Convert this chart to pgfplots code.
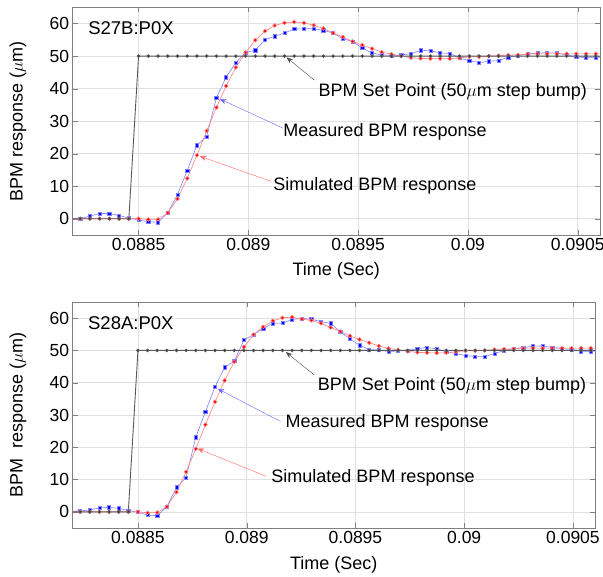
\documentclass[border=0pt]{standalone}
\usepackage{fontspec}
\setmainfont{Liberation Sans}
\usepackage{pgfplots}
\pgfplotsset{compat=1.18}
\usepackage{pgfplotstable}
\usetikzlibrary{arrows.meta}

% t = time (s), sp = set point, meas = measured, sim = simulated
\pgfplotstableread{
t          sp  meas  sim
0.0881899  0   0.0   0.0
0.0882342  0   0.0   0.0
0.0882785  0   0.8   0.0
0.0883228  0   1.6   0.0
0.0883671  0   1.6   0.0
0.0884114  0   1.0   0.0
0.0884557  0   0.2   0.0
0.0885000  50  -0.4  0.0
0.0885443  50  -0.9  -0.2
0.0885886  50  -1.1  -0.2
0.0886329  50  1.8   1.8
0.0886772  50  7.4   6.1
0.0887215  50  14.8  12.4
0.0887658  50  22.6  19.5
0.0888101  50  25.3  27.0
0.0888544  50  37.2  34.2
0.0888987  50  43.5  40.8
0.0889430  50  48.0  46.5
0.0889873  50  51.1  51.1
0.0890316  50  51.8  54.9
0.0890759  50  55.0  57.7
0.0891202  50  56.1  59.4
0.0891645  50  57.1  60.2
0.0892088  50  58.3  60.5
0.0892531  50  58.4  60.2
0.0892974  50  58.4  59.5
0.0893417  50  57.9  58.5
0.0893860  50  57.1  57.1
0.0894303  50  55.3  55.9
0.0894746  50  54.5  54.5
0.0895189  50  52.5  53.4
0.0895632  50  50.9  52.3
0.0896075  50  50.4  51.2
0.0896518  50  50.2  50.6
0.0896961  50  50.4  50.0
0.0897404  50  50.7  49.5
0.0897847  50  51.8  49.3
0.0898290  50  51.6  49.2
0.0898733  50  51.0  49.2
0.0899176  50  50.8  49.2
0.0899619  50  49.4  49.4
0.0900062  50  48.6  49.8
0.0900505  50  48.0  49.8
0.0900948  50  48.4  50.0
0.0901391  50  48.6  50.1
0.0901834  50  49.6  50.3
0.0902277  50  50.2  50.4
0.0902720  50  50.6  50.6
0.0903163  50  51.0  50.7
0.0903606  50  51.0  50.7
0.0904049  50  51.0  50.7
0.0904492  50  50.3  50.7
0.0904935  50  49.8  50.7
0.0905378  50  49.5  50.7
0.0905821  50  49.5  50.7
0.0906264  50  49.5  50.7
}\topdata

\pgfplotstableread{
t          sp  meas  sim
0.0881899  0   0.2   0.0
0.0882342  0   0.3   0.0
0.0882785  0   0.6   0.0
0.0883228  0   1.2   0.0
0.0883671  0   1.4   0.0
0.0884114  0   1.1   0.0
0.0884557  0   0.4   0.0
0.0885000  50  -0.1  0.0
0.0885443  50  -1.0  -0.3
0.0885886  50  -1.2  -0.2
0.0886329  50  1.6   1.6
0.0886772  50  7.6   6.1
0.0887215  50  10.6  12.4
0.0887658  50  23.1  19.5
0.0888101  50  31.0  27.0
0.0888544  50  38.7  34.1
0.0888987  50  44.8  40.7
0.0889430  50  46.7  46.5
0.0889873  50  53.2  51.1
0.0890316  50  54.9  54.9
0.0890759  50  56.8  57.3
0.0891202  50  58.4  59.2
0.0891645  50  58.5  60.1
0.0892088  50  59.6  60.3
0.0892531  50  59.9  59.7
0.0892974  50  59.7  59.3
0.0893417  50  58.9  58.4
0.0893860  50  58.4  57.1
0.0894303  50  55.8  55.9
0.0894746  50  53.6  54.5
0.0895189  50  51.6  53.4
0.0895632  50  50.3  52.4
0.0896075  50  50.1  51.4
0.0896518  50  49.7  50.6
0.0896961  50  49.8  50.2
0.0897404  50  50.0  49.7
0.0897847  50  50.6  49.4
0.0898290  50  50.9  49.3
0.0898733  50  50.5  49.2
0.0899176  50  49.6  49.3
0.0899619  50  49.0  49.6
0.0900062  50  48.4  49.9
0.0900505  50  48.1  49.9
0.0900948  50  48.1  50.0
0.0901391  50  49.0  50.3
0.0901834  50  50.0  50.4
0.0902277  50  50.5  50.5
0.0902720  50  50.9  50.7
0.0903163  50  51.3  50.7
0.0903606  50  51.4  50.7
0.0904049  50  50.9  50.7
0.0904492  50  50.6  50.7
0.0904935  50  50.3  50.7
0.0905378  50  49.7  50.7
0.0905821  50  49.7  50.7
0.0906264  50  49.7  50.7
}\botdata

\pgfplotsset{
  bpm/.style={
    scale only axis, anchor=north west,
    xmin=0.0882, xmax=0.0906, ymin=-5, ymax=65,
    scaled x ticks=false,
    xtick={0.0885,0.089,0.0895,0.09,0.0905},
    xticklabels={0.0885,0.089,0.0895,0.09,0.0905},
    ytick={0,10,20,30,40,50,60},
    grid=major, major grid style={black!12, line width=0.5pt},
    axis line style={black!50}, tick style={black!50},
    tick align=inside, major tick length=5pt,
    ticklabel style={font=\fontsize{17.5}{20}\selectfont},
    label style={font=\fontsize{18}{21}\selectfont},
    /pgf/number format/assume math mode=true,
    xlabel={Time (Sec)},
  },
  meas/.style={blue!50, line width=0.6pt, mark=square*, mark size=1.6pt,
    mark options={draw=none, fill=blue}},
  sim/.style={red!50, line width=0.6pt, mark=*, mark size=1.9pt,
    mark options={draw=none, fill=red}},
  setp/.style={black!65, line width=0.9pt, mark=*, mark size=1.3pt,
    mark options={draw=none, fill=black}},
}
\tikzset{
  note/.style={anchor=west, inner sep=0pt, font=\fontsize{18}{21}\selectfont},
  tag/.style={anchor=west, inner sep=0pt, font=\fontsize{18.5}{21}\selectfont},
  arr/.style={line width=0.4pt, -{Stealth[length=6.5pt,width=5pt]}},
}

\begin{document}
\begin{tikzpicture}
\useasboundingbox (0,0) rectangle (603pt,-577pt);

\begin{axis}[bpm, at={(72.7pt,-7.3pt)}, width=527pt, height=227.7pt,
  ylabel={BPM response ($\mu$m)},
  ylabel style={at={(axis description cs:-0.104,0.5)}, anchor=center},
  xlabel style={at={(axis description cs:0.5,-0.158)}, anchor=center}]
\addplot[meas] table[x=t, y=meas] {\topdata};
\addplot[sim] table[x=t, y=sim] {\topdata};
\addplot[setp] table[x=t, y=sp] {\topdata};
\node[tag] at (axis cs:0.08827,58.5) {S27B:P0X};
\draw[arr, black!70] (axis cs:0.0893,42.6) -- (axis cs:0.089174,49.6);
\node[note] at (axis cs:0.089319,39.1) {BPM Set Point (50$\mu$m step bump)};
\draw[arr, blue!60] (axis cs:0.089156,27.9) -- (axis cs:0.08887,36.8);
\node[note] at (axis cs:0.089159,26.8) {Measured BPM response};
\draw[arr, red!60] (axis cs:0.089103,11.5) -- (axis cs:0.088779,19.2);
\node[note] at (axis cs:0.089113,10.0) {Simulated BPM response};
\end{axis}

\begin{axis}[bpm, at={(72.7pt,-302pt)}, width=522pt, height=226pt,
  ylabel={BPM\ \ response ($\mu$m)},
  ylabel style={at={(axis description cs:-0.105,0.5)}, anchor=center},
  xlabel style={at={(axis description cs:0.5,-0.164)}, anchor=center}]
\addplot[meas] table[x=t, y=meas] {\botdata};
\addplot[sim] table[x=t, y=sim] {\botdata};
\addplot[setp] table[x=t, y=sp] {\botdata};
\node[tag] at (axis cs:0.08827,58.5) {S28A:P0X};
\draw[arr, black!70] (axis cs:0.089309,42.5) -- (axis cs:0.08918,49.5);
\node[note] at (axis cs:0.089326,38.9) {BPM Set Point (50$\mu$m step bump)};
\draw[arr, blue!60] (axis cs:0.089156,28.0) -- (axis cs:0.088867,38.1);
\node[note] at (axis cs:0.089178,27.6) {Measured BPM response};
\draw[arr, red!60] (axis cs:0.08909,11.0) -- (axis cs:0.088774,19.6);
\node[note] at (axis cs:0.089113,10.5) {Simulated BPM response};
\end{axis}
\end{tikzpicture}
\end{document}
